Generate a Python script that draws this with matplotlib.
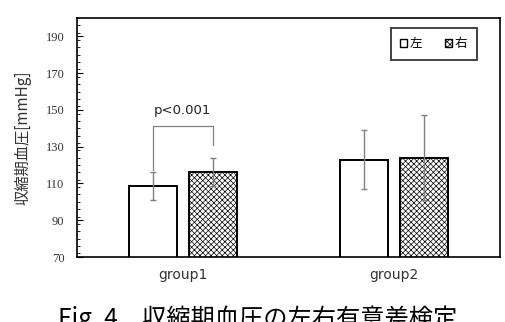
import numpy as np
import matplotlib.pyplot as plt
from matplotlib.patches import Patch
from matplotlib.ticker import MultipleLocator

plt.rcParams['hatch.linewidth'] = 0.5

groups = ["group1", "group2"]
left_mean = [108.7, 122.9]
left_err = [7.5, 16.0]
right_mean = [116.2, 124.0]
right_err = [7.8, 23.0]
series_names = ["左", "右"]
p_text = "p<0.001"

fig = plt.figure(figsize=(5.06, 3.22), dpi=100)
ax = fig.add_axes([77/506, 1-257/322, 423/506, 239/322])

x = np.arange(len(groups))
w = 0.226
off = 0.1415

ax.bar(x - off, left_mean, w, color="white", edgecolor="black", linewidth=1.4, zorder=2)
ax.bar(x + off, right_mean, w, color="white", edgecolor="black", linewidth=1.4,
       hatch="xxxxxx", zorder=2)
ax.errorbar(x - off, left_mean, yerr=left_err, fmt="none", ecolor="#808080",
            elinewidth=1.0, capsize=2, zorder=3)
ax.errorbar(x + off, right_mean, yerr=right_err, fmt="none", ecolor="#808080",
            elinewidth=1.0, capsize=2, zorder=3)

# significance bracket
ax.plot([x[0] - off, x[0] - off, x[0] + off, x[0] + off],
        [117.5, 141, 141, 131], color="#808080", lw=0.9, zorder=3)
ax.text(x[0], 146, p_text, ha="center", va="bottom", fontsize=9.5,
        family="DejaVu Sans", color="#222222")

ax.set_xlim(-0.5, 1.5)
ax.set_ylim(70, 200)
ax.set_yticks(np.arange(70, 200, 20))
ax.yaxis.set_minor_locator(MultipleLocator(4))
ax.tick_params(axis="y", which="both", direction="in", left=True, right=False)
ax.tick_params(axis="y", which="major", length=4, labelsize=9, pad=9)
ax.tick_params(axis="y", which="minor", length=2)
for lab in ax.get_yticklabels():
    lab.set_family("Liberation Serif")
    lab.set_color("#333333")
ax.set_xticks(x)
ax.set_xticklabels(groups, fontsize=10, color="#333333")
ax.tick_params(axis="x", length=0, pad=8)
for s in ax.spines.values():
    s.set_linewidth(1.2)

ax.set_ylabel("収縮期血圧[mmHg]", family=["Noto Sans CJK JP", "DejaVu Sans"],
              fontsize=11, color="#333333", labelpad=10)

handles = [Patch(facecolor="white", edgecolor="black", linewidth=1.0),
           Patch(facecolor="white", edgecolor="black", linewidth=1.0, hatch="xxxxxx")]
leg = ax.legend(handles, series_names, loc="upper right", ncol=2, fancybox=False,
                edgecolor="black", handlelength=0.6, handleheight=0.6,
                handletextpad=0.2, columnspacing=1.8, borderpad=0.75,
                bbox_to_anchor=(0.96, 0.985),
                prop={"family": "Noto Sans CJK JP", "size": 9})
leg.get_frame().set_linewidth(1.3)

fig.text(0.51, 1 - 332/322, "Fig. 4　収縮期血圧の左右有意差検定", ha="center", va="bottom",
         fontsize=17.5, family=["Noto Sans CJK JP", "DejaVu Sans"], color="black")

fig.savefig("out.png", dpi=100)
